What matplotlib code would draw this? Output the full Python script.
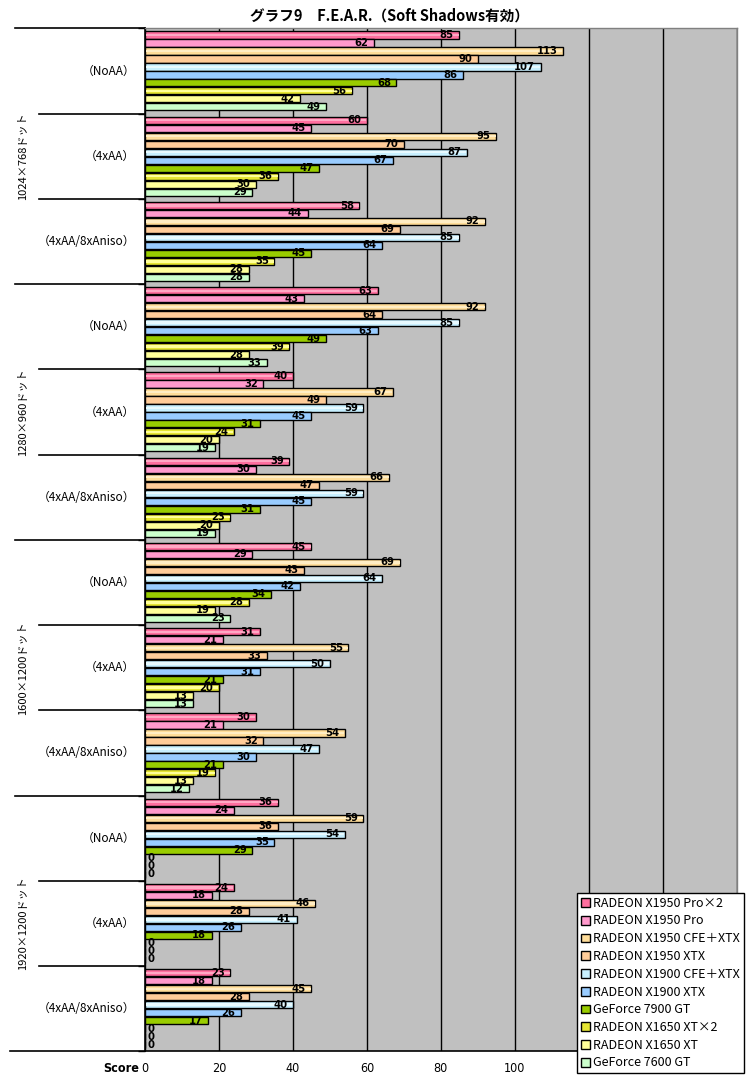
import matplotlib
matplotlib.use("Agg")
import matplotlib.pyplot as plt
from matplotlib.patches import Patch
import numpy as np

plt.rcParams['font.family'] = ['Noto Sans CJK JP', 'DejaVu Sans']

series = ["RADEON X1950 Pro×2", "RADEON X1950 Pro", "RADEON X1950 CFE＋XTX",
          "RADEON X1950 XTX", "RADEON X1900 CFE＋XTX", "RADEON X1900 XTX",
          "GeForce 7900 GT", "RADEON X1650 XT×2", "RADEON X1650 XT", "GeForce 7600 GT"]
colors = ["#FF6F9F", "#FF99CC", "#FFDD99", "#FFCC99", "#C8F0FF",
          "#99CCFF", "#99CC00", "#E6E633", "#FFFF99", "#CCFFCC"]
highlight = [True, False, True, False, True, False, False, True, False, False]
hl_colors = ["#FFA8C4", None, "#FFEDC4", None, "#E8FAFF", None, None, "#FFFF99", None, None]

resolutions = ["1024×768ドット", "1280×960ドット", "1600×1200ドット", "1920×1200ドット"]
settings = ["（NoAA）", "（4xAA）", "（4xAA/8xAniso）"]

# rows: group order top to bottom; columns: series
values = [
    [85, 62, 113, 90, 107, 86, 68, 56, 42, 49],
    [60, 45, 95, 70, 87, 67, 47, 36, 30, 29],
    [58, 44, 92, 69, 85, 64, 45, 35, 28, 28],
    [63, 43, 92, 64, 85, 63, 49, 39, 28, 33],
    [40, 32, 67, 49, 59, 45, 31, 24, 20, 19],
    [39, 30, 66, 47, 59, 45, 31, 23, 20, 19],
    [45, 29, 69, 43, 64, 42, 34, 28, 19, 23],
    [31, 21, 55, 33, 50, 31, 21, 20, 13, 13],
    [30, 21, 54, 32, 47, 30, 21, 19, 13, 12],
    [36, 24, 59, 36, 54, 35, 29, 0, 0, 0],
    [24, 18, 46, 28, 41, 26, 18, 0, 0, 0],
    [23, 18, 45, 28, 40, 26, 17, 0, 0, 0],
]
xticks = [0, 20, 40, 60, 80, 100, 120, 140, 160]
xticklabels = ["0", "20", "40", "60", "80", "100", "", "", ""]  # 120-160 hidden behind legend

W, H = 753, 1083
fig = plt.figure(figsize=(W / 100, H / 100), dpi=100)
ax_l, ax_r, ax_t, ax_b = 145, 736.7, 28.3, 1051.3
ax = fig.add_axes([ax_l / W, 1 - ax_b / H, (ax_r - ax_l) / W, (ax_b - ax_t) / H])
ax.set_facecolor("#C0C0C0")

vals = np.array(values, dtype=float)
ngroups, nser = vals.shape
g = 0.68
h = 1.0 / (nser + g)
ypos = np.arange(ngroups)
for j in range(nser):
    y = ypos + (j - (nser - 1) / 2) * h
    ax.barh(y, vals[:, j], height=h * 0.9, color=colors[j], edgecolor="black",
            linewidth=1.0, zorder=3)
    if highlight[j]:
        ax.barh(y, np.maximum(vals[:, j] - 0.3, 0), height=h * 0.3, left=0.15,
                color=hl_colors[j], linewidth=0, zorder=4)
    for gi in range(ngroups):
        v = vals[gi, j]
        if v > 0:
            ax.annotate(f"{int(v)}", (v, y[gi]), xytext=(-4, 0), textcoords="offset points",
                        ha="right", va="center", fontsize=8, fontweight="bold",
                        family="DejaVu Sans", fontstretch="condensed", zorder=5)
        else:
            ax.annotate("0", (0, y[gi]), xytext=(2, 0), textcoords="offset points",
                        ha="left", va="center", fontsize=8, fontweight="bold",
                        family="DejaVu Sans", fontstretch="condensed", zorder=5)

ax.set_xlim(0, 160)
ax.set_ylim(ngroups - 0.5, -0.5)
ax.set_xticks(xticks)
ax.set_xticklabels(xticklabels, family="DejaVu Sans", fontsize=9,
                   fontstretch="condensed")
ax.tick_params(axis="x", length=0, pad=8)
ax.set_yticks(np.arange(ngroups + 1) - 0.5)
ax.set_yticklabels([])
ax.tick_params(axis="y", length=5, width=1, color="black")
ax.grid(axis="x", color="black", linewidth=1.0, zorder=1)
ax.set_axisbelow(True)
for s in ["top", "right"]:
    ax.spines[s].set_color("#808080")
    ax.spines[s].set_linewidth(1)
ax.spines["left"].set_color("black")
ax.spines["bottom"].set_color("black")
ax.spines["left"].set_linewidth(1.2)
ax.spines["bottom"].set_linewidth(1.2)

pw = ax_r - ax_l
tr = ax.get_yaxis_transform()
for k in range(ngroups + 1):
    yb = k - 0.5
    if k == ngroups:
        x0 = 10
    elif k % 3 == 0:
        x0 = 15
    else:
        x0 = 39
    ax.plot([(x0 - ax_l) / pw, 0], [yb, yb], transform=tr, color="black",
            linewidth=1.2, clip_on=False)

for gi in range(ngroups):
    ax.text((135 - ax_l) / pw, gi, settings[gi % 3], transform=tr, ha="right",
            va="center", fontsize=8.5)
for ri, r in enumerate(resolutions):
    ax.text((22 - ax_l) / pw, ri * 3 + 1, r, transform=tr, ha="center", va="center",
            rotation=90, fontsize=8)

fig.text(390 / W, 1 - 16 / H, "グラフ9　F.E.A.R.（Soft Shadows有効）", ha="center",
         va="center", fontsize=10.5, fontweight="bold")
fig.text(139 / W, 1 - 1068 / H, "Score", ha="right", va="center", fontsize=9,
         fontweight="bold", family="DejaVu Sans", fontstretch="condensed")

handles = [Patch(facecolor=c, edgecolor="black", linewidth=1) for c in colors]
leg = fig.legend(handles, series, loc="upper left",
                 bbox_to_anchor=(577 / W, 1 - 893 / H), fontsize=9,
                 frameon=True, fancybox=False, edgecolor="black", framealpha=1,
                 handlelength=0.7, handleheight=0.7, handletextpad=0.3,
                 labelspacing=0.38, borderpad=0.3, borderaxespad=0)
leg.get_frame().set_linewidth(1)
leg.set_zorder(10)

fig.savefig("out.png", dpi=100)
